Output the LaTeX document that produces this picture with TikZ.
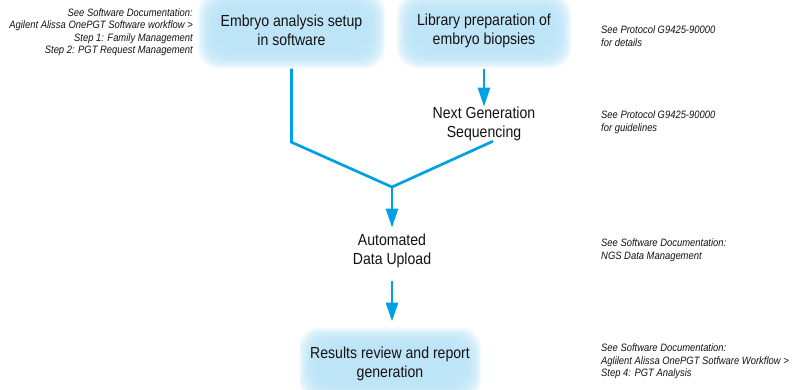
\documentclass[tikz,border=0pt]{standalone}
\usepackage{fontspec}
\setmainfont[FakeStretch=0.88]{Liberation Sans}
\usetikzlibrary{arrows.meta,calc,backgrounds}
\definecolor{flow}{RGB}{0,161,228}
\definecolor{glowc}{RGB}{185,227,247}
\definecolor{ink}{RGB}{20,18,18}
\begin{document}
\begin{tikzpicture}[x=1pt,y=-1pt,
  mainbox/.style={inner sep=0pt, align=center, font=\fontsize{16}{19.3}\selectfont, text=ink},
  steptext/.style={inner sep=0pt, align=center, font=\fontsize{16}{19.3}\selectfont, text=ink},
  note/.style={inner sep=0pt, font=\fontsize{10.7}{12.5}\selectfont\itshape, text=ink},
  flowline/.style={draw=flow, line width=2.7pt},
  flowarrow/.style={flowline, -{Triangle[length=19pt,width=12pt]}},
]
\useasboundingbox (0,0) rectangle (792,390);

% boxes
\node[mainbox, minimum width=187pt, minimum height=76pt] (b1) at (291.5,30) {Embryo analysis setup\\in software};
\node[mainbox, minimum width=174pt, minimum height=74pt] (b2) at (484,31) {Library preparation of\\embryo biopsies};
\node[mainbox, minimum width=182pt, minimum height=72pt] (b3) at (390,363.7) {Results review and report\\generation};

% glow behind boxes
\begin{scope}[on background layer]
  \foreach \b in {b1,b2,b3}{
    \foreach \k in {0,...,17}{
      \fill[glowc, opacity=0.14, rounded corners=20pt]
        ($(\b.south west)+(\k,-\k)$) rectangle ($(\b.north east)+(-\k,\k)$);
    }
  }
\end{scope}

% plain steps
\node[steptext] (ngs) at (484,123.9) {Next Generation\\Sequencing};
\node[steptext] (adu) at (392,250.9) {Automated\\Data Upload};

% connectors
\coordinate (j) at (392,187);
\draw[flowline] ([yshift=-0.5pt]b1.south) -- ++(0,73.5) -- (j);
\draw[flowline] ($(ngs.south)+(9,0)$) -- (j);
\draw[flowarrow] ([yshift=-0.5pt]b2.south) -- (ngs.north);
\draw[flowarrow, shorten >=6pt] (j) -- (adu.north);
\draw[flowarrow, shorten <=13pt, shorten >=6pt] (adu.south) -- (adu.south |- b3.north);

% notes
\node[note, align=right, anchor=north east] (n1) at (193,8.3)
  {See Software Documentation:\\Agilent Alissa OnePGT Software workflow >\\Step 1: Family Management\\Step 2: PGT Request Management};
\node[note, align=left, anchor=north west] (n2) at (601,25.6)
  {See Protocol G9425-90000\\for details};
\node[note, align=left, anchor=north west] (n3) at (601,110.6)
  {See Protocol G9425-90000\\for guidelines};
\node[note, align=left, anchor=north west] (n4) at (601,238.8)
  {See Software Documentation:\\NGS Data Management};
\node[note, align=left, anchor=north west] (n5) at (601,344)
  {See Software Documentation:\\Aglilent Alissa OnePGT Sotfware Workflow >\\Step 4: PGT Analysis};
\end{tikzpicture}
\end{document}
